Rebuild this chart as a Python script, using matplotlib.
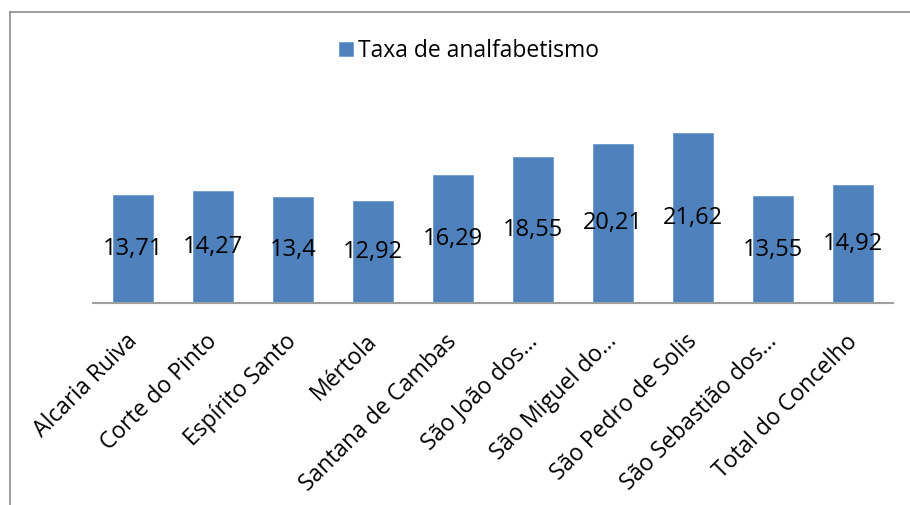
import matplotlib.pyplot as plt
import matplotlib.transforms as mtransforms
from matplotlib.lines import Line2D

categories = [
    "Alcaria Ruiva",
    "Corte do Pinto",
    "Espírito Santo",
    "Mértola",
    "Santana de Cambas",
    "São João dos…",
    "São Miguel do…",
    "São Pedro de Solis",
    "São Sebastião dos…",
    "Total do Concelho",
]
values = [13.71, 14.27, 13.4, 12.92, 16.29, 18.55, 20.21, 21.62, 13.55, 14.92]
value_labels = ["13,71", "14,27", "13,4", "12,92", "16,29", "18,55", "20,21", "21,62", "13,55", "14,92"]

W, H = 910, 505
fig = plt.figure(figsize=(W / 100, H / 100), dpi=100)
plt.rcParams["font.family"] = ["Open Sans", "DejaVu Sans"]

# plot area in pixel terms: baseline y=303, x from 93 to 893, top at value 25
ax = fig.add_axes([93 / W, (H - 303) / H, 800 / W, (303 - 106) / H])
x = range(len(categories))
ax.bar(x, values, width=0.51, color="#4f81bd", edgecolor="#6f9bd0",
       linewidth=0.6, label="Taxa de analfabetismo")
ax.set_xlim(-0.5, len(categories) - 0.5)
ax.set_ylim(0, 25)

# data labels sit in the middle of each bar
for xi, v, lab in zip(x, values, value_labels):
    ax.text(xi, v / 2, lab, ha="center", va="center", fontsize=17, color="black")

ax.set_yticks([])
ax.set_xticks(list(x))
ax.set_xticklabels(categories, rotation=45, ha="right", rotation_mode="anchor",
                   fontsize=16.5)
ax.tick_params(axis="x", length=0, pad=12)
# nudge labels down-left to sit like Excel's
shift = mtransforms.ScaledTranslation(-8 / 100, -10 / 100, fig.dpi_scale_trans)
for lbl in ax.get_xticklabels():
    lbl.set_transform(lbl.get_transform() + shift)
for side in ["top", "right", "left"]:
    ax.spines[side].set_visible(False)
ax.spines["bottom"].set_color("#a0a0a0")
ax.spines["bottom"].set_linewidth(1.5)

fig.legend(loc="center", bbox_to_anchor=(469 / W, 1 - 51 / H), frameon=False,
           fontsize=16.5, handlelength=0.6, handleheight=0.6, handletextpad=0.25)

# outer chart frame (left and top edges visible)
fig.add_artist(Line2D([9.5 / W, 9.5 / W], [0, 1 - 12 / H], color="#8c8c8c", lw=1.2))
fig.add_artist(Line2D([9.5 / W, 1], [1 - 12 / H, 1 - 12 / H], color="#8c8c8c", lw=1.2))

fig.savefig("out.png", dpi=100)
